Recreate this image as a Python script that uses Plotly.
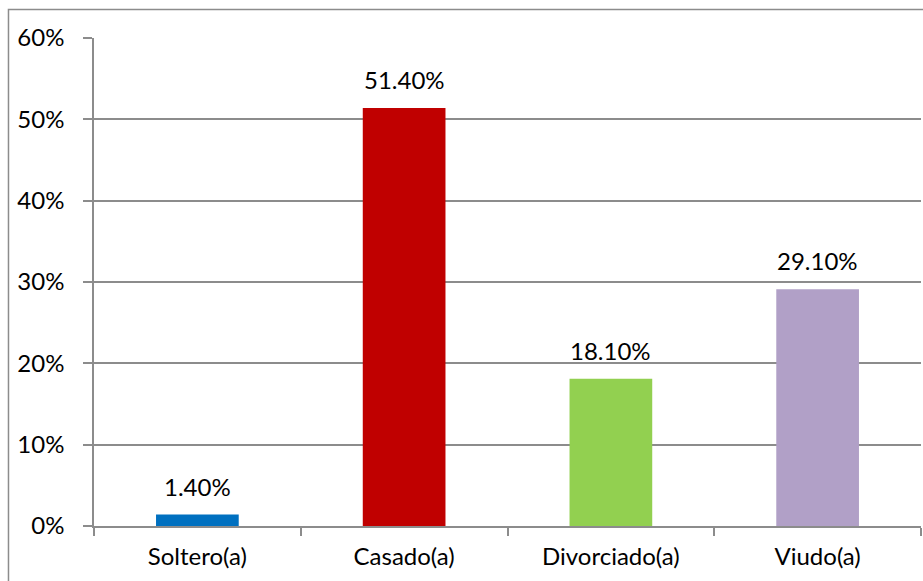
import plotly.graph_objects as go

categories = ["Soltero(a)", "Casado(a)", "Divorciado(a)", "Viudo(a)"]
values = [0.014, 0.514, 0.181, 0.291]
colors = ["#0070C0", "#C00000", "#92D050", "#B1A0C7"]
y_ticks = [0, 0.1, 0.2, 0.3, 0.4, 0.5, 0.6]
y_tick_labels = ["0%", "10%", "20%", "30%", "40%", "50%", "60%"]

FONT = "Lato, 'Open Sans', sans-serif"
FSIZE = 24
GRID = "#8C8C8C"

fig = go.Figure(
    go.Bar(
        x=categories,
        y=values,
        marker=dict(color=colors, line=dict(width=0)),
        hoverinfo="skip",
    )
)

# value labels above each bar
for c, v in zip(categories, values):
    fig.add_annotation(
        x=c, y=v, text=f"{v*100:.2f}%", showarrow=False,
        yanchor="bottom", yshift=12,
        font=dict(family=FONT, size=FSIZE, color="#000000"),
    )

# outer chart frame
fig.add_shape(
    type="rect", xref="paper", yref="paper",
    x0=-0.1034, x1=1.05, y0=-0.4, y1=1.0584,
    line=dict(color=GRID, width=1.5), fillcolor="rgba(0,0,0,0)",
    layer="below",
)

fig.update_layout(
    width=923, height=581,
    margin=dict(l=94, r=2, t=38, b=55),
    paper_bgcolor="white", plot_bgcolor="white",
    bargap=0.6, showlegend=False,
    font=dict(family=FONT, size=FSIZE, color="#000000"),
    xaxis=dict(
        type="category",
        showline=True, linecolor=GRID, linewidth=1.5,
        ticks="outside", tickson="boundaries", ticklen=8,
        tickcolor=GRID, tickwidth=1.5,
        showgrid=False, ticklabelstandoff=8,
        tickfont=dict(family=FONT, size=FSIZE),
    ),
    yaxis=dict(
        range=[0, 0.6],
        tickvals=y_ticks, ticktext=y_tick_labels,
        showline=True, linecolor=GRID, linewidth=1.5,
        ticks="outside", ticklen=9, tickcolor=GRID, tickwidth=1.5,
        showgrid=True, gridcolor=GRID, gridwidth=1.5,
        zeroline=False, ticklabelstandoff=14,
        tickfont=dict(family=FONT, size=FSIZE),
    ),
)

fig.write_html("out.html")
